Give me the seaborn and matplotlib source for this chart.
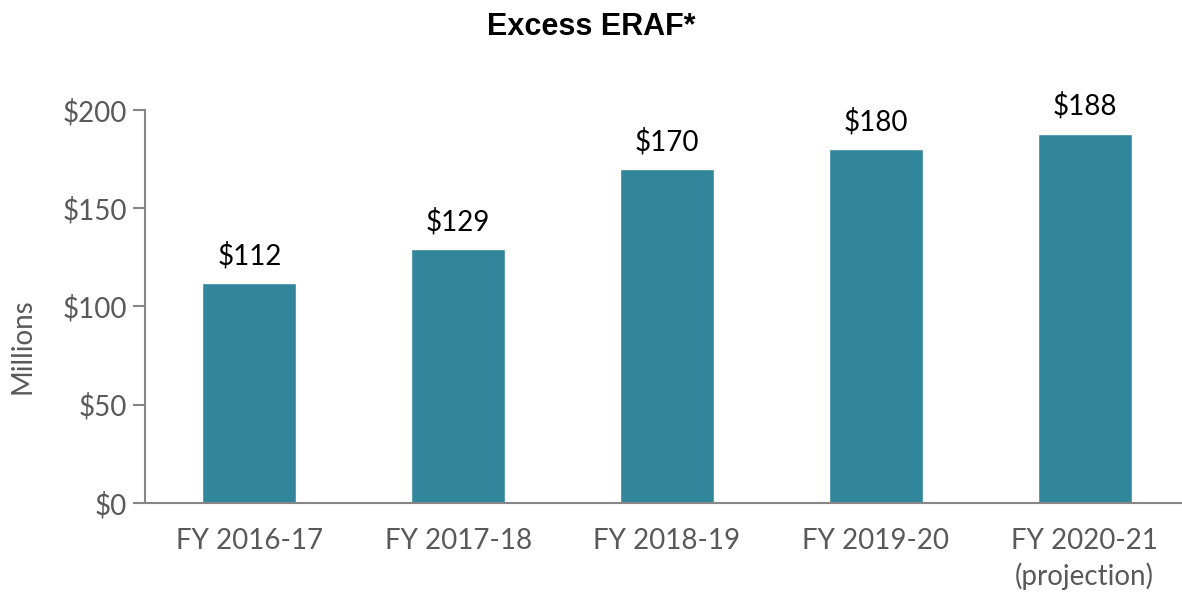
import matplotlib
matplotlib.use("Agg")
import matplotlib.pyplot as plt
import seaborn as sns
import pandas as pd

# chart values
years = ["FY 2016-17", "FY 2017-18", "FY 2018-19", "FY 2019-20", "FY 2020-21\n(projection)"]
excess_eraf = [112, 129, 170, 180, 188]
y_ticks = [0, 50, 100, 150, 200]

bar_color = "#31869B"
gray = "#595959"

sns.set_theme(style="white")
plt.rcParams["font.family"] = ["Lato", "DejaVu Sans"]

df = pd.DataFrame({"year": years, "value": excess_eraf})

fig = plt.figure(figsize=(11.82, 6.0), dpi=100)
ax = fig.add_axes([0.1227, 0.1617, 0.8833, 0.655])

sns.barplot(data=df, x="year", y="value", color=bar_color, width=0.45,
            saturation=1, ax=ax)

ax.set_xlim(-0.5, 4.5)
ax.set_ylim(0, 200)
ax.set_yticks(y_ticks)
ax.set_yticklabels([f"${v}" for v in y_ticks])

# value labels above bars
for i, v in enumerate(excess_eraf):
    ax.text(i, v + 7, f"${v}", ha="center", va="bottom", fontsize=20, color="black")

for s in ["top", "right"]:
    ax.spines[s].set_visible(False)
for s in ["left", "bottom"]:
    ax.spines[s].set_color("#868686")
    ax.spines[s].set_linewidth(1.5)

ax.tick_params(axis="y", which="both", left=True, length=9, width=1.5,
               color="#868686", labelsize=20, labelcolor=gray, pad=4)
ax.tick_params(axis="x", bottom=False, labelsize=20, labelcolor=gray, pad=12)
for lbl in ax.get_xticklabels():
    lbl.set_linespacing(1.35)

ax.set_xlabel("")
ax.set_ylabel("Millions", fontsize=20, color=gray)
ax.yaxis.set_label_coords(-0.105, 0.40)

fig.text(0.5, 0.955, "Excess ERAF*", ha="center", va="center", color="black",
         fontsize=22, fontweight="bold", family=["Liberation Sans", "DejaVu Sans"])

fig.savefig("out.png", dpi=100)
